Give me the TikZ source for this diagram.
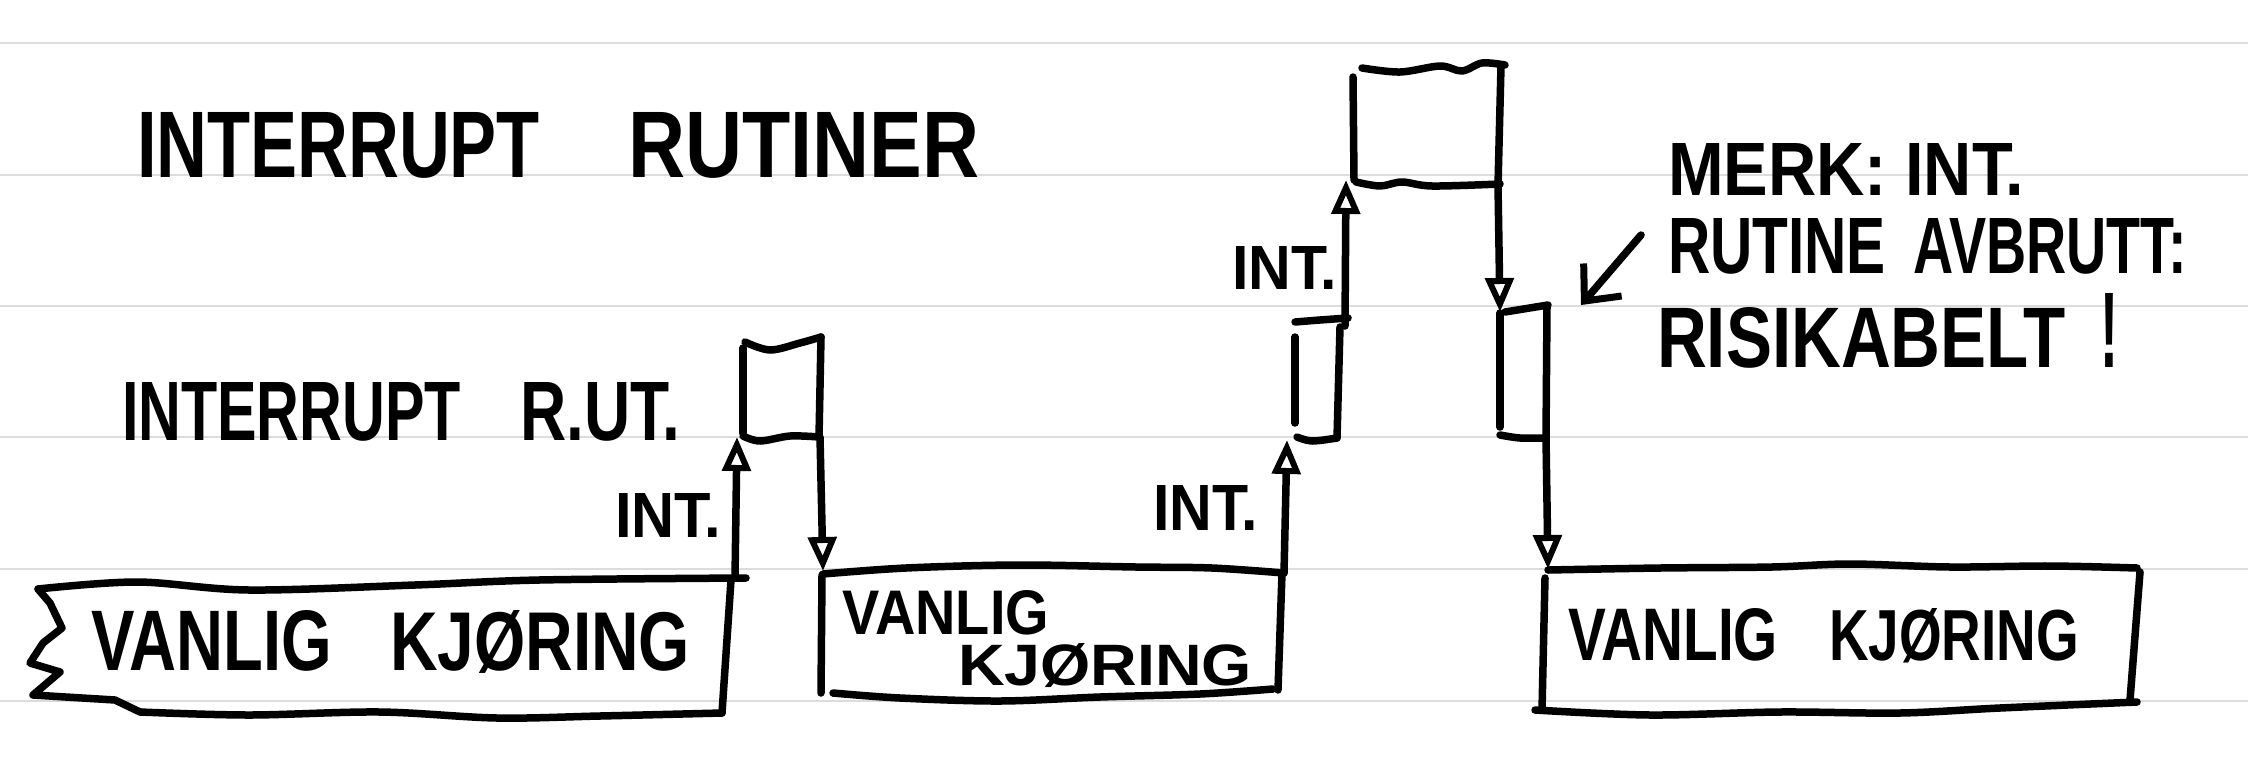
\documentclass[tikz,border=0pt]{standalone}
\usepackage{fontspec}
\setmainfont{Liberation Sans}
\usepackage{graphicx}
\usetikzlibrary{arrows.meta}
\definecolor{rulegray}{RGB}{220,220,220}
\newcommand\hw[3]{\resizebox{#1pt}{#2pt}{\bfseries #3}}
\tikzset{
  pen/.style={line width=7.5pt, line cap=round, line join=round, draw=black},
  rule/.style={line width=2.5pt, draw=rulegray},
  tip/.style={-{Triangle[open, length=34pt, width=28pt, line width=6pt]}},
  barb/.style={-{Straight Barb[length=28pt, width=50pt, line width=7pt]}},
  txt/.style={anchor=base west, inner sep=0pt, outer sep=0pt},
  wavy/.style={smooth, tension=0.55}
}
\begin{document}
\begin{tikzpicture}[x=1pt, y=-1pt]
\fill[white] (0,0) rectangle (2248,774);
\useasboundingbox (0,0) rectangle (2248,774);
% ruled paper lines
\foreach \yy in {43,175,306,437,569,701} \draw[rule] (0,\yy) -- (2248,\yy);

% ---------- named points ----------
\coordinate (b1tr) at (735,578);
\coordinate (aBL)  at (737,437);
\coordinate (aBR)  at (820,437);
\coordinate (b2tl) at (823,571);
\coordinate (b2tr) at (1284,573);
\coordinate (bBL)  at (1287,440);
\coordinate (bTR)  at (1345,326);
\coordinate (cBL)  at (1346,180);
\coordinate (cBR)  at (1498,185);
\coordinate (dTL)  at (1500,312);
\coordinate (dBR)  at (1546,438);
\coordinate (b3tl) at (1548,569);
\coordinate (noteS) at (1641,235);
\coordinate (noteE) at (1581,305);

% ---------- box 1 (left, torn edge) ----------
\draw[pen] plot[wavy] coordinates {(38,589) (137,582) (249,590) (415,585) (539,580) (746,578)};
\draw[pen] (731,580) -- (722,713);
\draw[pen] plot[wavy] coordinates {(722,713) (600,716) (497,718) (380,712) (249,715) (140,712)};
\draw[pen] (140,712) -- (115,700) -- (33,695) -- (60,672) -- (30,663) -- (43,643) -- (62,628) -- (50,603) -- (38,589);

% ---------- box A (first interrupt routine) ----------
\draw[pen] (743,348) -- (743,433);
\draw[pen] plot[wavy] coordinates {(745,342) (770,350) (800,343) (821,337)};
\draw[pen] (821,337) -- (819,437);
\draw[pen] plot[wavy] coordinates {(743,436) (760,441) (790,436) (819,437)};

% ---------- box 2 (middle) ----------
\draw[pen] plot[wavy] coordinates {(823,574) (906,568) (1018,565) (1136,567) (1212,568) (1284,573)};
\draw[pen] (822,575) -- (821,693);
\draw[pen] (1282,573) -- (1278,690);
\draw[pen] plot[wavy] coordinates {(833,693) (900,698) (1000,701) (1100,697) (1200,694) (1273,689)};

% ---------- box B ----------
\draw[pen] (1295,337) -- (1295,423);
\draw[pen] plot[wavy] coordinates {(1295,322) (1320,320) (1348,318)};
\draw[pen] (1340,327) -- (1337,438);
\draw[pen] plot[wavy] coordinates {(1297,437) (1312,441) (1337,438)};

% ---------- box C (nested interrupt routine) ----------
\draw[pen] (1353,77) -- (1354,180);
\draw[pen] plot[wavy] coordinates {(1362,68) (1400,72) (1440,66) (1462,71) (1482,63) (1505,65)};
\draw[pen] (1501,66) -- (1498,185);
\draw[pen] plot[wavy] coordinates {(1356,182) (1380,186) (1402,182) (1432,186) (1500,184)};

% ---------- box D ----------
\draw[pen] (1505,312) -- (1548,305);
\draw[pen] (1500,313) -- (1500,427);
\draw[pen] (1547,306) -- (1546,438);
\draw[pen] plot[wavy] coordinates {(1500,435) (1520,438) (1545,438)};

% ---------- box 3 (right) ----------
\draw[pen] plot[wavy] coordinates {(1548,570) (1660,568) (1772,567) (1850,564) (1950,567) (2050,566) (2137,568)};
\draw[pen] (1545,578) -- (1542,710);
\draw[pen] (2140,572) -- (2130,700);
\draw[pen] plot[wavy] coordinates {(1535,710) (1650,715) (1780,712) (1900,713) (2000,708) (2137,702)};

% ---------- connectors ----------
\draw[pen,tip] (b1tr) -- (aBL);
\draw[pen,tip] (aBR) -- (b2tl);
\draw[pen,tip] (b2tr) -- (bBL);
\draw[pen,tip] (bTR) -- (cBL);
\draw[pen,tip] (cBR) -- (dTL);
\draw[pen,tip] (dBR) -- (b3tl);
\draw[pen,barb] (noteS) -- (noteE);

% ---------- texts ----------
\node[txt] (title) at (137,177) {\hw{403}{65}{INTERRUPT}\hspace{88pt}\hw{351}{65}{RUTINER}};
\node[txt] (rutlbl) at (122,440) {\hw{339}{58}{INTERRUPT}\hspace{59pt}\hw{160}{58}{R.UT.}};
\node[txt] (int1) at (615,537) {\hw{106}{44}{INT.}};
\node[txt] (int2) at (1153,530) {\hw{105}{45}{INT.}};
\node[txt] (int3) at (1232,289) {\hw{105}{43}{INT.}};
\node[txt] (run1) at (91,670) {\hw{241}{60}{VANLIG}\hspace{58pt}\hw{300}{60}{KJØRING}};
\node[txt] (run2a) at (842,634) {\hw{207}{44}{VANLIG}};
\node[txt] (run2b) at (958,685) {\hw{294}{42}{KJØRING}};
\node[txt] (run3) at (1568,660) {\hw{210}{52}{VANLIG}\hspace{51pt}\hw{250}{52}{KJØRING}};
\node[txt] (note1) at (1668,195) {\hw{356}{52}{MERK: INT.}};
\node[txt] (note2) at (1668,273) {\hw{218}{55}{RUTINE}\hspace{27pt}\hw{274}{55}{AVBRUTT:}};
\node[txt] (note3) at (1657,367) {\hw{409}{60}{RISIKABELT}\hspace{34pt}\hw{18}{74}{!}};
\end{tikzpicture}
\end{document}
